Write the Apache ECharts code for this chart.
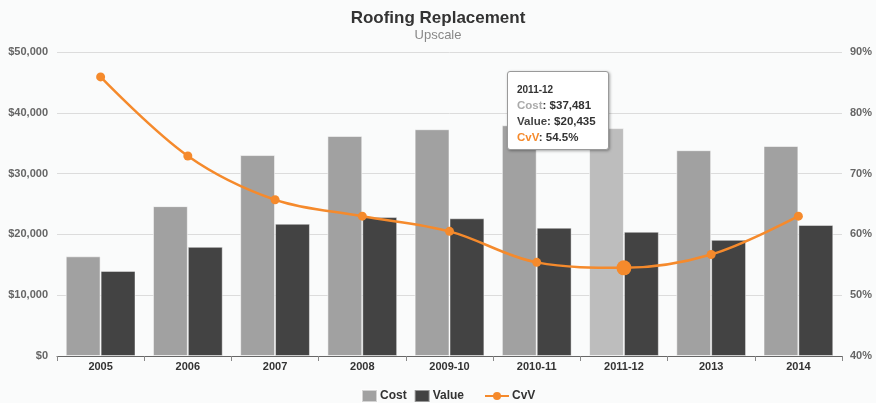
<!DOCTYPE html>
<html>
<head>
<meta charset="utf-8">
<script src="https://cdn.jsdelivr.net/npm/echarts@6/dist/echarts.min.js"></script>
<style>
  html, body { margin: 0; padding: 0; background: #fafbfb; }
  #chart { width: 876px; height: 403px; }
  .tt { font-family: "Liberation Sans", Arial, Helvetica, sans-serif; font-weight: 700; color: #333; }
  .tt div { font-weight: 700; }
  .tt .d { font-size: 10px; line-height: 15px; }
  .tt .r { font-size: 11.5px; line-height: 16px; }
</style>
</head>
<body>
<div id="chart"></div>
<script>
const categories = ['2005', '2006', '2007', '2008', '2009-10', '2010-11', '2011-12', '2013', '2014'];
const costValues = [16400, 24650, 33050, 36200, 37300, 37950, 37481, 33850, 34550];
const valueValues = [14000, 17950, 21750, 22850, 22650, 21100, 20435, 19100, 21550];
const cvvValues = [85.9, 72.9, 65.7, 63.0, 60.5, 55.4, 54.5, 56.7, 63.0];
const leftTicks = { min: 0, max: 50000, interval: 10000 };
const rightTicks = { min: 40, max: 90, interval: 10 };
const activeIndex = 6;

const FONT = "'Liberation Sans', Arial, Helvetica, sans-serif";
const COST = '#a1a1a1', COST_HI = '#bdbdbd', VALUE = '#434343', ORANGE = '#f58a2c';

function money(v) { return '$' + Math.round(v).toLocaleString('en-US'); }

const chart = echarts.init(document.getElementById('chart'), null, { renderer: 'canvas' });
chart.setOption({
  backgroundColor: '#fafbfb',
  animation: false,
  textStyle: { fontFamily: FONT },
  title: {
    text: 'Roofing Replacement',
    subtext: 'Upscale',
    left: 'center',
    top: 5,
    itemGap: 2,
    textStyle: { fontFamily: FONT, fontSize: 17, fontWeight: 'bold', color: '#333' },
    subtextStyle: { fontFamily: FONT, fontSize: 13, color: '#888' }
  },
  grid: { left: 57, right: 34, top: 52, bottom: 47 },
  legend: [
    {
      data: ['Cost', 'Value'],
      left: 356, top: 384,
      itemWidth: 15, itemHeight: 12, itemGap: 7,
      icon: 'rect',
      textStyle: { fontFamily: FONT, fontSize: 12, fontWeight: 'bold', color: '#333', padding: [0, 0, 0, -2] }
    },
    {
      data: ['CvV'],
      left: 479, top: 385,
      itemWidth: 24, itemHeight: 10,
      textStyle: { fontFamily: FONT, fontSize: 12, fontWeight: 'bold', color: '#333', padding: [0, 0, 0, -2] }
    }
  ],
  tooltip: {
    trigger: 'item',
    alwaysShowContent: true,
    transitionDuration: 0,
    showDelay: 0,
    position: [507, 71],
    backgroundColor: '#ffffff',
    borderColor: '#9a9a9a',
    borderWidth: 1,
    padding: [10, 12, 4, 9],
    extraCssText: 'border-radius:3px; box-shadow: 1px 1px 3px rgba(0,0,0,0.35);',
    formatter: function (p) {
      const i = p.dataIndex;
      return '<div class="tt">' +
        '<div class="d">' + categories[i] + '</div>' +
        '<div class="r"><span style="color:#aaaaaa">Cost</span>: ' + money(costValues[i]) + '</div>' +
        '<div class="r"><span style="color:#444">Value</span>: ' + money(valueValues[i]) + '</div>' +
        '<div class="r"><span style="color:' + ORANGE + '">CvV</span>: ' + cvvValues[i].toFixed(1) + '%</div>' +
        '</div>';
    }
  },
  xAxis: {
    type: 'category',
    data: categories,
    boundaryGap: true,
    axisLine: { lineStyle: { color: '#666', width: 1 } },
    axisTick: { show: true, length: 5, lineStyle: { color: '#888' } },
    axisLabel: { margin: 5, fontFamily: FONT, fontSize: 11, fontWeight: 'bold', color: '#333' }
  },
  yAxis: [
    {
      type: 'value',
      min: leftTicks.min, max: leftTicks.max, interval: leftTicks.interval,
      axisLine: { show: false },
      axisTick: { show: false },
      splitLine: { lineStyle: { color: '#dcdcdc', width: 1 } },
      axisLabel: { margin: 9, fontFamily: FONT, fontSize: 11, fontWeight: 'bold', color: '#666', formatter: money }
    },
    {
      type: 'value',
      min: rightTicks.min, max: rightTicks.max, interval: rightTicks.interval,
      axisLine: { show: false },
      axisTick: { show: false },
      splitLine: { show: false },
      axisLabel: { margin: 8, fontFamily: FONT, fontSize: 11, fontWeight: 'bold', color: '#666', formatter: '{value}%' }
    }
  ],
  series: [
    {
      name: 'Cost',
      type: 'bar',
      barGap: '0%',
      barCategoryGap: '20%',
      itemStyle: { color: COST, borderColor: 'rgba(255,255,255,0.55)', borderWidth: 1 },
      emphasis: { disabled: true },
      data: costValues.map((v, i) => i === activeIndex ? { value: v, itemStyle: { color: COST_HI } } : v)
    },
    {
      name: 'Value',
      type: 'bar',
      itemStyle: { color: VALUE, borderColor: 'rgba(255,255,255,0.45)', borderWidth: 1 },
      emphasis: { disabled: true },
      data: valueValues
    },
    {
      name: 'CvV',
      type: 'line',
      yAxisIndex: 1,
      smooth: 0.35,
      symbol: 'circle',
      symbolSize: 9,
      lineStyle: { color: ORANGE, width: 2.5 },
      itemStyle: { color: ORANGE },
      emphasis: { disabled: true },
      data: cvvValues.map((v, i) => i === activeIndex ? { value: v, symbolSize: 15 } : v),
      z: 5
    }
  ]
});
chart.dispatchAction({ type: 'showTip', seriesIndex: 0, dataIndex: activeIndex });
</script>
</body>
</html>
